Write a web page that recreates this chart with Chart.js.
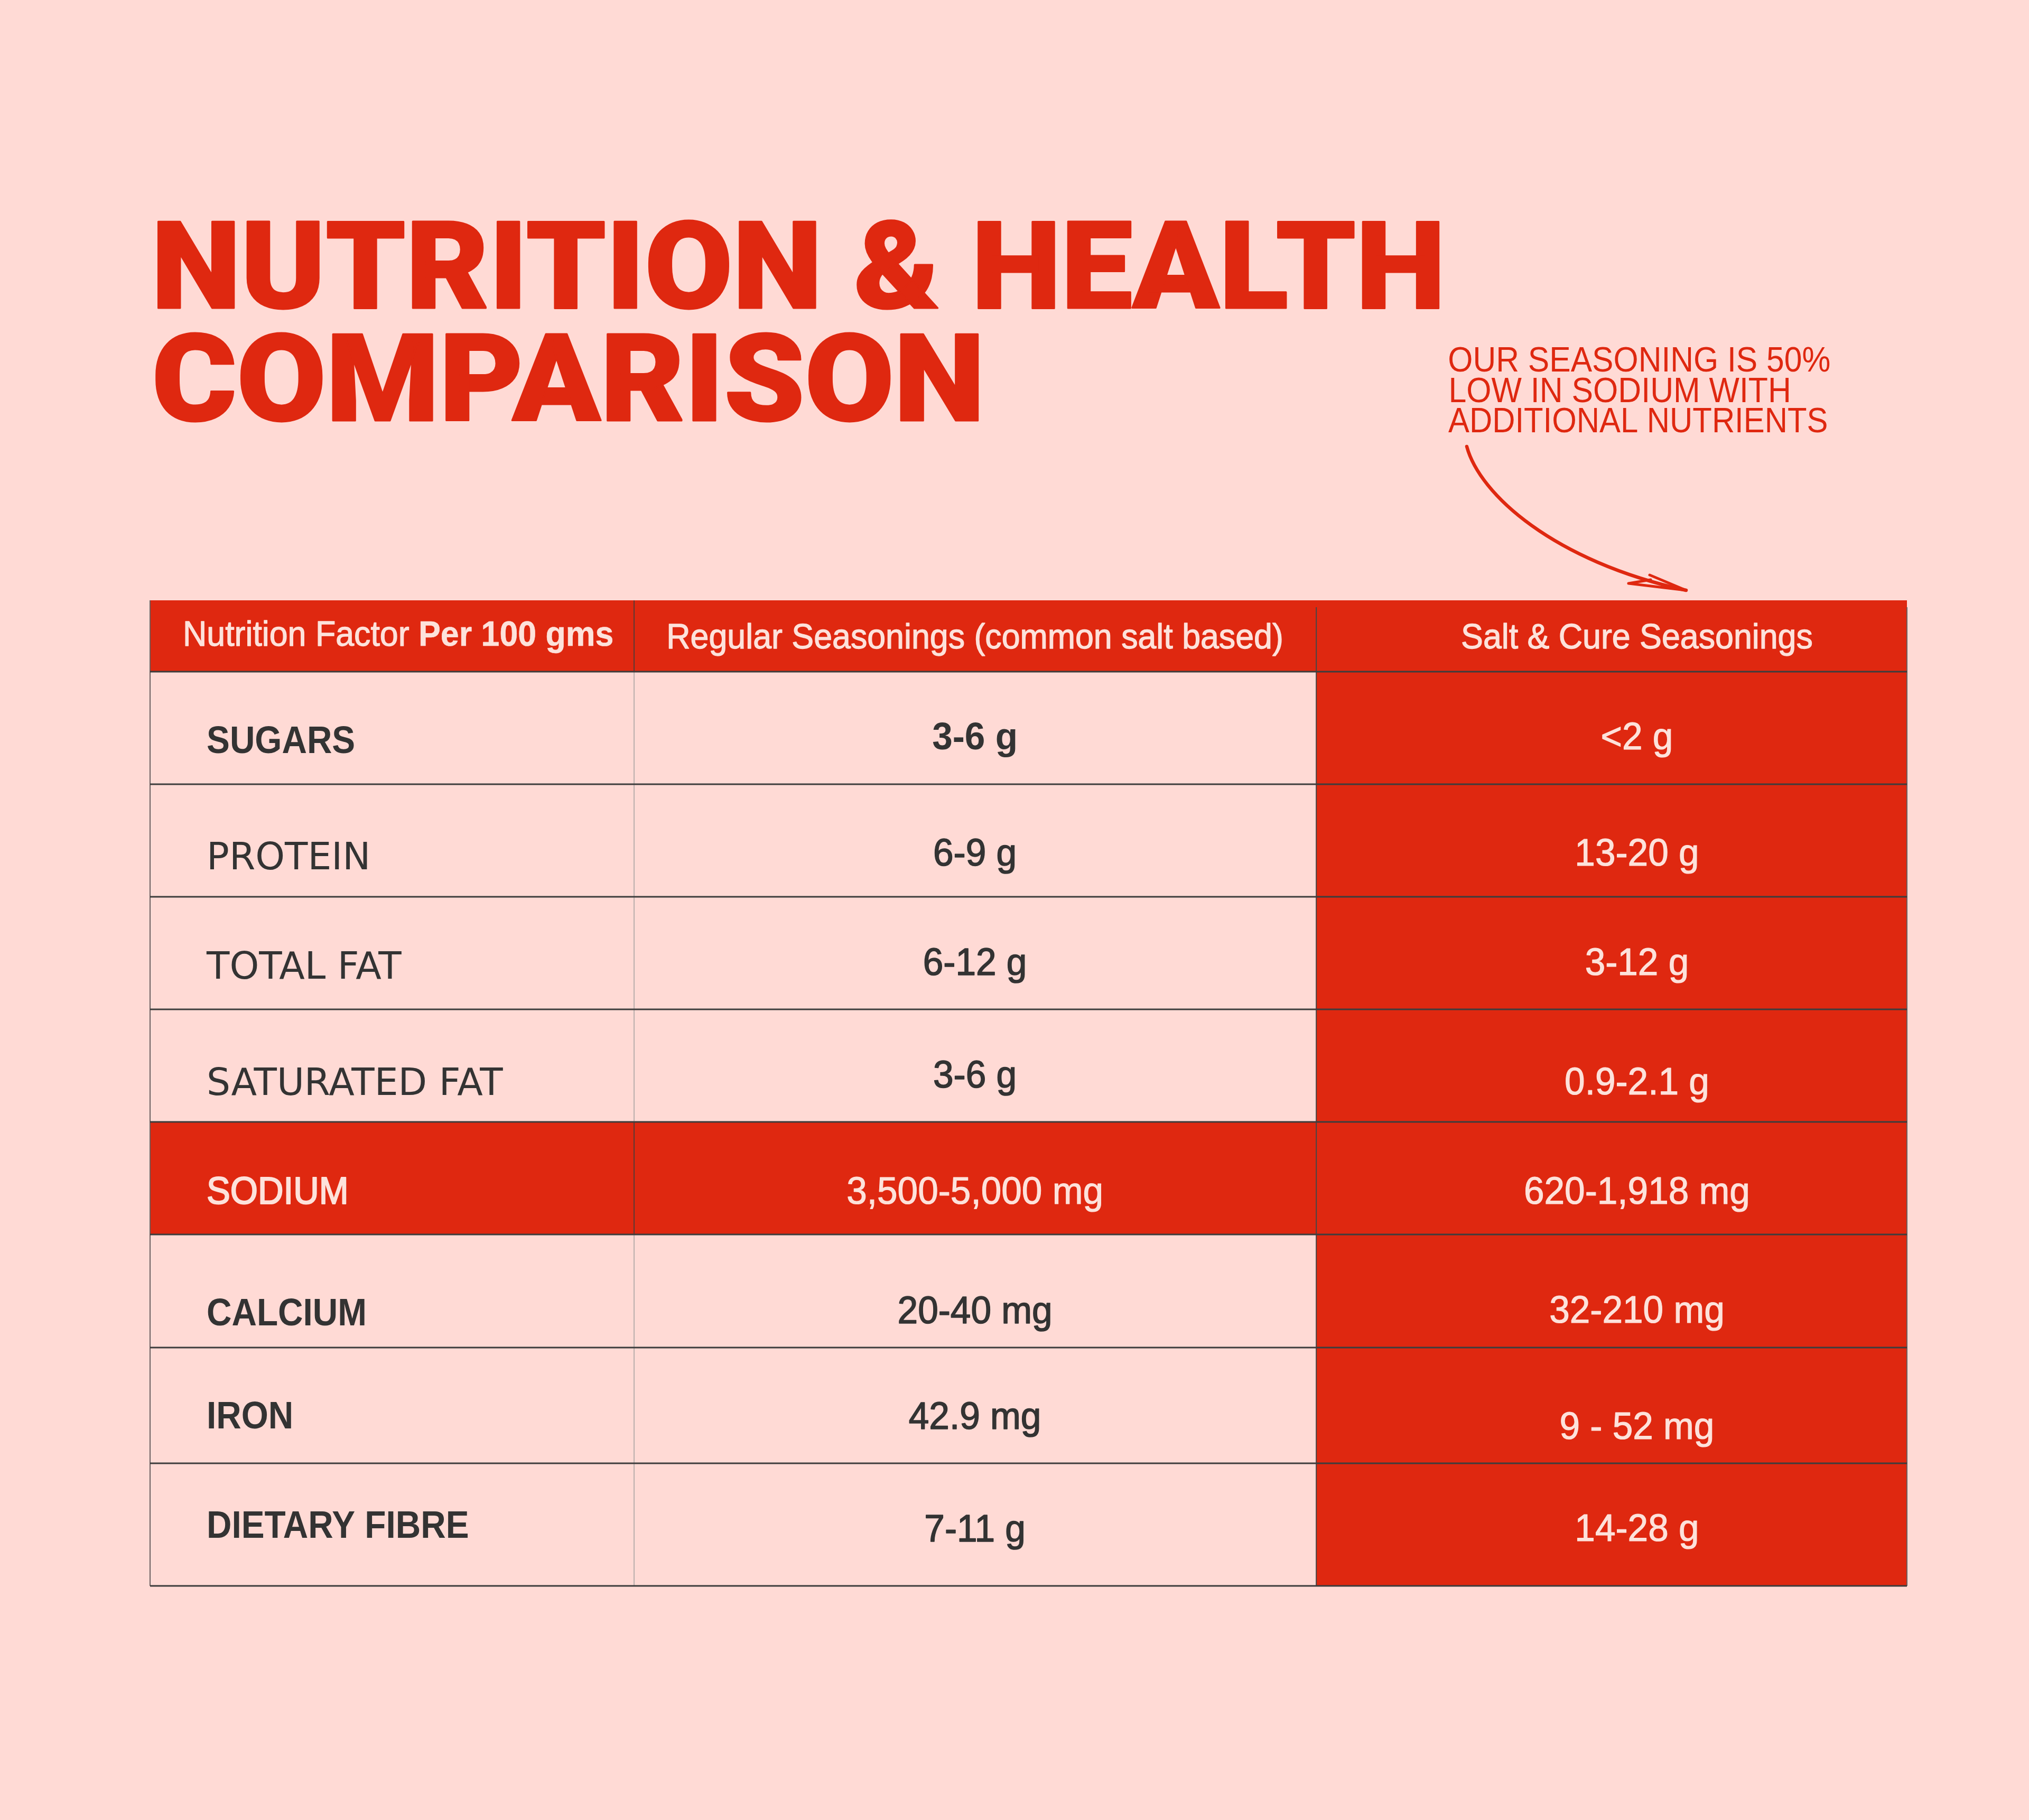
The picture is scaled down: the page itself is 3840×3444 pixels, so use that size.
<!DOCTYPE html>
<html>
<head>
<meta charset="utf-8">
<script src="https://cdn.jsdelivr.net/npm/chart.js@4.4.0/dist/chart.umd.min.js"></script>
<style>
html,body{margin:0;padding:0;background:#FFDAD5;overflow:hidden}
canvas{display:block}
</style>
</head>
<body>
<canvas id="c" width="3840" height="3444"></canvas>
<script>
// ---------- DATA ----------
const titleLines = ['NUTRITION & HEALTH', 'COMPARISON'];
const noteLines = ['OUR SEASONING IS 50%', 'LOW IN SODIUM WITH', 'ADDITIONAL NUTRIENTS'];
const headerFactor = 'Nutrition Factor ';
const headerFactorBold = 'Per 100 gms';
const headerRegular = 'Regular Seasonings (common salt based)';
const headerSaltCure = 'Salt & Cure Seasonings';
const nutrients = ['SUGARS', 'PROTEIN', 'TOTAL FAT', 'SATURATED FAT', 'SODIUM', 'CALCIUM', 'IRON', 'DIETARY FIBRE'];
const regularValues = ['3-6 g', '6-9 g', '6-12 g', '3-6 g', '3,500-5,000 mg', '20-40 mg', '42.9 mg', '7-11 g'];
const saltCureValues = ['<2 g', '13-20 g', '3-12 g', '0.9-2.1 g', '620-1,918 mg', '32-210 mg', '9 - 52 mg', '14-28 g'];
const highlightedNutrient = 'SODIUM';

// ---------- LAYOUT / STYLE ----------
const RED = '#DF2810', BG = '#FFDAD5', DARK = '#333333', LIGHT = '#FDE2DB';
const rowHeights = [135, 213, 213, 213, 213, 213, 214, 219, 232]; // header + rows
const colEdges = [0, 0.2755, 0.6638, 1];
const colTextX = [0.0322, 0.4695, 0.8463];
const headerTextX = 0.01865;
// baseline offset from row centre: [label, regular, saltCure]
const rowDy = [[47, 40, 40], [54, 47, 47], [48, 41, 41], [55, 41, 54], [48, 48, 48], [65, 61, 60], [43, 44, 63], [25, 32, 31]];
const labelStyle = ['b', 'm', 'm', 'm', 'b', 'b', 'b', 'b'];
const boldRegularRow = 0;

const rowEdges = [0];
rowHeights.forEach(h => rowEdges.push(rowEdges[rowEdges.length - 1] + h));
const totalH = rowEdges[rowEdges.length - 1];

function drawText(ctx, text, x, y, font, color, align, sx, strokeW) {
  ctx.save();
  ctx.font = font;
  ctx.textAlign = align;
  ctx.textBaseline = 'alphabetic';
  ctx.translate(x, y);
  ctx.scale(sx, 1);
  ctx.fillStyle = color;
  ctx.fillText(text, 0, 0);
  if (strokeW) { ctx.strokeStyle = color; ctx.lineWidth = strokeW; ctx.lineJoin = 'round'; ctx.strokeText(text, 0, 0); }
  ctx.restore();
}
function fitInk(ctx, text, font, color, x0, x1, baseline, strokeW) {
  ctx.save();
  ctx.font = font;
  ctx.textAlign = 'left';
  ctx.textBaseline = 'alphabetic';
  const m = ctx.measureText(text);
  const w = m.actualBoundingBoxLeft + m.actualBoundingBoxRight;
  const sx = (x1 - x0) / w;
  ctx.translate(x0, baseline);
  ctx.scale(sx, 1);
  ctx.fillStyle = color;
  ctx.fillText(text, m.actualBoundingBoxLeft, 0);
  if (strokeW) { ctx.strokeStyle = color; ctx.lineWidth = strokeW; ctx.lineJoin = 'round'; ctx.strokeText(text, m.actualBoundingBoxLeft, 0); }
  ctx.restore();
}

const tablePlugin = {
  id: 'tablePlugin',
  beforeDraw(chart) {
    const ctx = chart.ctx;
    ctx.save();
    ctx.fillStyle = BG;
    ctx.fillRect(0, 0, chart.width, chart.height);
    ctx.restore();
  },
  afterDraw(chart) {
    const ctx = chart.ctx;
    const xs = chart.scales.x, ys = chart.scales.y;
    const X = v => xs.getPixelForValue(v);
    const Y = v => ys.getPixelForValue(v);
    const left = X(0), right = X(1), top = Y(0), bottom = Y(totalH);

    // ---- cells ----
    ctx.save();
    ctx.fillStyle = RED;
    ctx.fillRect(left, Y(rowEdges[0]), right - left, Y(rowEdges[1]) - Y(rowEdges[0]));
    nutrients.forEach((n, i) => {
      const y0 = Y(rowEdges[i + 1]), y1 = Y(rowEdges[i + 2]);
      if (n === highlightedNutrient) {
        ctx.fillRect(left, y0, right - left, y1 - y0);
      } else {
        ctx.fillRect(X(colEdges[2]), y0, right - X(colEdges[2]), y1 - y0);
      }
    });
    ctx.restore();

    // ---- lines ----
    ctx.save();
    for (let r = 0; r < rowHeights.length; r++) {
      const red = r === 0 || nutrients[r - 1] === highlightedNutrient;
      ctx.strokeStyle = red ? '#5a3a35' : '#b9aeac';
      ctx.lineWidth = 2;
      ctx.beginPath();
      ctx.moveTo(X(colEdges[1]), Y(rowEdges[r]));
      ctx.lineTo(X(colEdges[1]), Y(rowEdges[r + 1]));
      ctx.stroke();
    }
    ctx.strokeStyle = '#464646';
    ctx.lineWidth = 2;
    ctx.beginPath();
    ctx.moveTo(X(colEdges[2]), top + 13); ctx.lineTo(X(colEdges[2]), bottom);
    ctx.stroke();
    ctx.strokeStyle = '#6a6060';
    ctx.beginPath();
    ctx.moveTo(right, top + 13); ctx.lineTo(right, bottom);
    ctx.stroke();
    ctx.strokeStyle = '#6a6060';
    ctx.lineWidth = 2;
    ctx.beginPath();
    ctx.moveTo(left, top); ctx.lineTo(left, bottom);
    ctx.stroke();
    ctx.strokeStyle = '#3d3d3d';
    ctx.lineWidth = 3;
    for (let k = 1; k < rowEdges.length; k++) {
      const y = Y(rowEdges[k]);
      ctx.beginPath();
      ctx.moveTo(left, y); ctx.lineTo(right, y);
      ctx.stroke();
    }
    ctx.restore();

    // ---- header texts ----
    const hc = (Y(rowEdges[0]) + Y(rowEdges[1])) / 2;
    const hb = hc + 21;
    const hdrFont = '400 66px "Liberation Sans"';
    const hdrBold = '700 66px "Liberation Sans"';
    const hsx = 0.95;
    ctx.save();
    ctx.font = hdrFont;
    const w1 = ctx.measureText(headerFactor).width * hsx;
    ctx.restore();
    const hx = X(headerTextX);
    drawText(ctx, headerFactor, hx, hb - 3, hdrFont, LIGHT, 'left', hsx, 1.3);
    drawText(ctx, headerFactorBold, hx + w1, hb - 3, hdrBold, LIGHT, 'left', hsx, 0.6);
    drawText(ctx, headerRegular, X(colTextX[1]), hb + 2, hdrFont, LIGHT, 'center', hsx, 1.3);
    drawText(ctx, headerSaltCure, X(colTextX[2]), hb + 2, hdrFont, LIGHT, 'center', hsx, 1.3);

    // ---- body texts ----
    nutrients.forEach((n, i) => {
      const yc = (Y(rowEdges[i + 1]) + Y(rowEdges[i + 2])) / 2;
      const hi = n === highlightedNutrient;
      const dy = rowDy[i];
      if (labelStyle[i] === 'm') {
        drawText(ctx, n, X(colTextX[0]), yc + dy[0], '400 71px "DejaVu Sans"', hi ? LIGHT : DARK, 'left', 1.0);
      } else if (hi) {
        drawText(ctx, n, X(colTextX[0]), yc + dy[0], '400 73px "Liberation Sans"', LIGHT, 'left', 0.92, 2.2);
      } else {
        drawText(ctx, n, X(colTextX[0]), yc + dy[0], '700 73px "Liberation Sans"', DARK, 'left', 0.9);
      }
      if (i === boldRegularRow) {
        drawText(ctx, regularValues[i], X(colTextX[1]), yc + dy[1], '700 73px "Liberation Sans"', DARK, 'center', 0.95);
      } else {
        drawText(ctx, regularValues[i], X(colTextX[1]), yc + dy[1], '400 73px "Liberation Sans"', hi ? LIGHT : DARK, 'center', 0.95, hi ? 1.2 : 1.6);
      }
      drawText(ctx, saltCureValues[i], X(colTextX[2]), yc + dy[2], '400 73px "Liberation Sans"', LIGHT, 'center', 0.95, 1.2);
    });

    // ---- title ----
    const tFont = '900 231px Roboto';
    fitInk(ctx, titleLines[0], tFont, RED, 299, 2723, 583, 3);
    fitInk(ctx, titleLines[1], tFont, RED, 295, 1851, 796, 3);

    // ---- note ----
    const nFont = '400 67px "Liberation Sans"';
    fitInk(ctx, noteLines[0], nFont, RED, 2743, 3463, 703);
    fitInk(ctx, noteLines[1], nFont, RED, 2746, 3385, 761);
    fitInk(ctx, noteLines[2], nFont, RED, 2741, 3457, 818);

    // ---- arrow ----
    ctx.save();
    ctx.strokeStyle = RED;
    ctx.fillStyle = RED;
    ctx.lineCap = 'round';
    ctx.lineJoin = 'round';
    ctx.lineWidth = 6.5;
    ctx.beginPath();
    ctx.moveTo(2776, 845);
    ctx.bezierCurveTo(2800, 935, 2940, 1062, 3191, 1117);
    ctx.stroke();
    ctx.lineWidth = 5;
    ctx.beginPath();
    ctx.moveTo(3122, 1088); ctx.lineTo(3191, 1117);
    ctx.moveTo(3082, 1104); ctx.lineTo(3191, 1117);
    ctx.moveTo(3082, 1104); ctx.lineTo(3124, 1097);
    ctx.stroke();
    ctx.restore();
  }
};

new Chart(document.getElementById('c'), {
  type: 'scatter',
  data: { datasets: [{ data: [], pointRadius: 0 }] },
  options: {
    responsive: false,
    devicePixelRatio: 1,
    animation: false,
    events: [],
    layout: { padding: { left: 284, right: 231, top: 1136, bottom: 443 } },
    plugins: { legend: { display: false }, tooltip: { enabled: false }, title: { display: false } },
    scales: {
      x: { type: 'linear', min: 0, max: 1, display: false },
      y: { type: 'linear', min: 0, max: totalH, reverse: true, display: false }
    }
  },
  plugins: [tablePlugin]
});
</script>
</body>
</html>
